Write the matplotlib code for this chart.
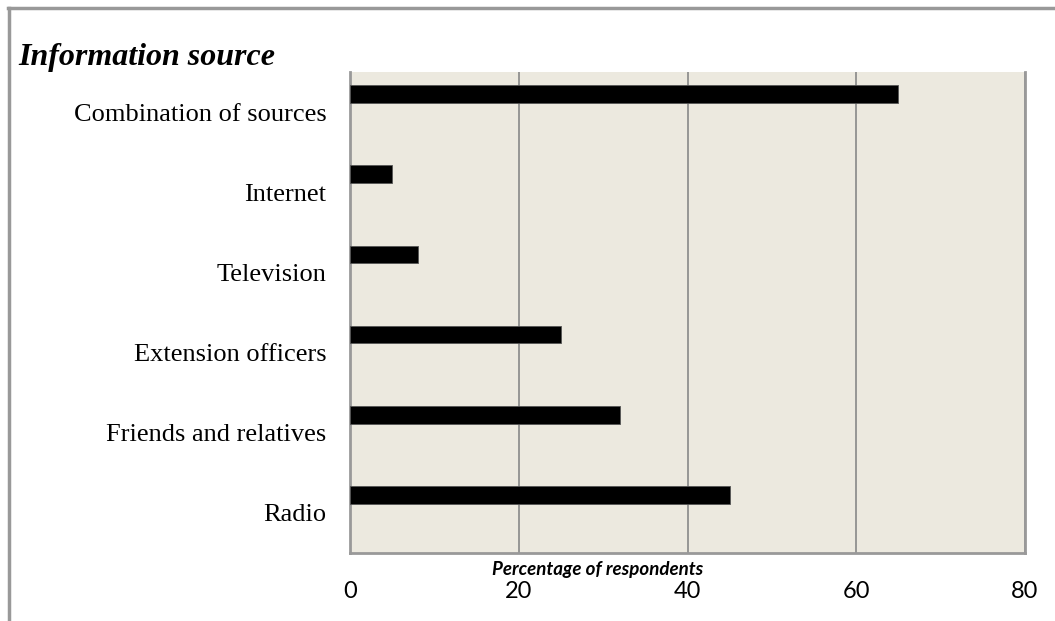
import matplotlib
matplotlib.use("Agg")
import matplotlib.pyplot as plt
import numpy as np
from matplotlib.lines import Line2D

categories = ["Radio", "Friends and relatives", "Extension officers",
              "Television", "Internet", "Combination of sources"]
values = [45, 32, 25, 8, 5, 65]
xticks = [0, 20, 40, 60, 80]

W, H = 1055, 621
fig = plt.figure(figsize=(W / 100, H / 100), dpi=100)
fig.patch.set_facecolor("white")

# plot area in pixels: x 350..1025, y 72..553
left, right, top, bottom = 350, 1025, 72, 553
ax = fig.add_axes([left / W, 1 - bottom / H, (right - left) / W, (bottom - top) / H])
ax.set_facecolor("#ECE9DF")

pos = np.arange(len(categories))
ax.barh(pos + 0.225, values, height=0.22, color="black", edgecolor="#555555",
        linewidth=0.6, zorder=3)
ax.set_ylim(-0.5, len(categories) - 0.5)
ax.set_xlim(0, 80)
ax.set_yticks(pos)
ax.set_yticklabels(categories, fontfamily="Liberation Serif", fontsize=19)
ax.set_xticks(xticks)
ax.set_xticklabels([str(t) for t in xticks], fontfamily="Lato", fontsize=17)
ax.tick_params(axis="both", length=0)
ax.tick_params(axis="y", pad=17)
ax.tick_params(axis="x", pad=20)

ax.xaxis.grid(True, color="#888888", linewidth=1.2, zorder=1)
ax.yaxis.grid(False)
ax.spines["top"].set_visible(False)
for s in ["left", "bottom", "right"]:
    ax.spines[s].set_color("#999999")
    ax.spines[s].set_linewidth(2)

# axis title
fig.text(598 / W, 1 - 570 / H, "Percentage of respondents", fontfamily="Lato",
         fontsize=13.5, fontweight="bold", fontstyle="italic", ha="center", va="center")
# y axis title
fig.text(18 / W, 1 - 58 / H, "Information source", fontfamily="Liberation Serif",
         fontsize=23, fontweight="bold", fontstyle="italic", ha="left", va="center")

# outer frame (top and left)
fig.add_artist(Line2D([8 / W, 1], [1 - 8 / H, 1 - 8 / H], color="#999999", linewidth=2.5,
                      transform=fig.transFigure))
fig.add_artist(Line2D([9 / W, 9 / W], [0, 1 - 8 / H], color="#999999", linewidth=2.5,
                      transform=fig.transFigure))

fig.savefig("out.png", dpi=100)
